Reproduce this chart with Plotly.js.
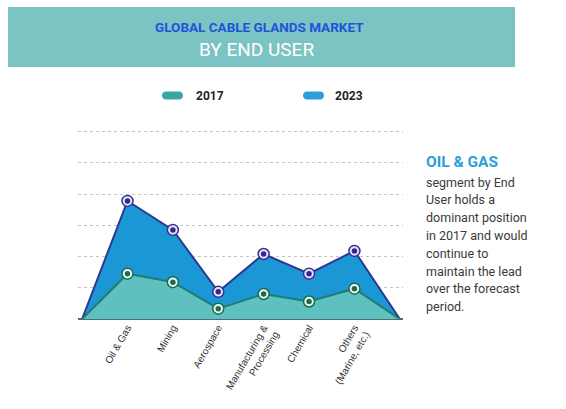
<!DOCTYPE html>
<html><head><meta charset="utf-8">
<script src="https://cdn.plot.ly/plotly-3.0.1.min.js"></script>
<style>html,body{margin:0;padding:0;background:#fff}#chart{width:566px;height:409px}</style>
</head><body><div id="chart"></div>
<script>
// ---- data ----
const categories = ["", "Oil & Gas", "Mining", "Aerospace", "Manufacturing &<br>Processing", "Chemical", "Others<br>(Marine, etc.)", " "];
const tickLabels = ["Oil & Gas", "Mining", "Aerospace", "Manufacturing &<br>Processing", "Chemical", "Others<br>(Marine, etc.)"];
const values2017 = [0, 1.45, 1.18, 0.33, 0.80, 0.56, 0.97, 0];
const values2023 = [0, 3.78, 2.85, 0.87, 2.08, 1.45, 2.18, 0];
const seriesNames = ["2017", "2023"];
const noteTitle = "OIL & GAS";
const noteLines = ["segment by End", "User holds a", "dominant position", "in 2017 and would", "continue to", "maintain the lead", "over the forecast", "period."];

// ---- layout helpers (pixel -> paper) ----
const W = 566, H = 409;
const M = {l: 78, r: 163, t: 129, b: 90};
const PW = W - M.l - M.r, PH = H - M.t - M.b;
const px = x => (x - M.l) / PW;
const py = y => (H - M.b - y) / PH;

const xs = categories.map((c, i) => i);
const markerIdx = [1, 2, 3, 4, 5, 6];

const traces = [
  {x: xs, y: values2023, type: 'scatter', mode: 'lines', fill: 'tozeroy', fillcolor: '#1b97d6',
   line: {color: '#2b3990', width: 2}, name: seriesNames[1], hoverinfo: 'skip'},
  {x: xs, y: values2017, type: 'scatter', mode: 'lines', fill: 'tozeroy', fillcolor: '#5ec1bf',
   line: {color: '#1f7d72', width: 2}, name: seriesNames[0], hoverinfo: 'skip'},
  {x: markerIdx, y: markerIdx.map(i => values2023[i]), type: 'scatter', mode: 'markers',
   marker: {size: 11, color: '#e6e4f7', line: {color: '#3a2e92', width: 1.5}}, hoverinfo: 'skip'},
  {x: markerIdx, y: markerIdx.map(i => values2023[i]), type: 'scatter', mode: 'markers',
   marker: {size: 5.5, color: '#2f2a8c'}, hoverinfo: 'skip'},
  {x: markerIdx, y: markerIdx.map(i => values2017[i]), type: 'scatter', mode: 'markers',
   marker: {size: 11, color: '#eef7f3', line: {color: '#1b6b50', width: 1.5}}, hoverinfo: 'skip'},
  {x: markerIdx, y: markerIdx.map(i => values2017[i]), type: 'scatter', mode: 'markers',
   marker: {size: 5.5, color: '#1b6b4c'}, hoverinfo: 'skip'}
];

function pill(x0, x1, yc, h, color) {
  const r = h / 2;
  const p = (x, y) => px(x) + ',' + py(y);
  const path = 'M' + p(x0 + r, yc - r) + ' L' + p(x1 - r, yc - r) +
    ' C' + p(x1 + r * 0.33, yc - r) + ' ' + p(x1 + r * 0.33, yc + r) + ' ' + p(x1 - r, yc + r) +
    ' L' + p(x0 + r, yc + r) +
    ' C' + p(x0 - r * 0.33, yc + r) + ' ' + p(x0 - r * 0.33, yc - r) + ' ' + p(x0 + r, yc - r) + ' Z';
  return {type: 'path', xref: 'paper', yref: 'paper', path: path, fillcolor: color, line: {width: 0}, layer: 'above'};
}

const shapes = [
  {type: 'rect', xref: 'paper', yref: 'paper', x0: px(8), x1: px(515), y0: py(67), y1: py(7),
   fillcolor: '#7cc3c3', line: {width: 0}, layer: 'below'},
  pill(162, 183, 95.5, 8, '#3aa6a4'),
  pill(303, 324, 95.5, 8, '#2a9fd8')
];

const annotations = [
  {text: '<b>GLOBAL CABLE GLANDS MARKET</b>', x: px(259.5), y: py(27), xref: 'paper', yref: 'paper',
   showarrow: false, xanchor: 'center', yanchor: 'middle', font: {family: 'Roboto', size: 13.5, color: '#1b56d8'}},
  {text: 'BY END USER', x: px(256), y: py(49), xref: 'paper', yref: 'paper',
   showarrow: false, xanchor: 'center', yanchor: 'middle', font: {family: 'Roboto', size: 19, color: '#ffffff'}},
  {text: '<b>' + seriesNames[0] + '</b>', x: px(194), y: py(96), xref: 'paper', yref: 'paper',
   showarrow: false, xanchor: 'left', yanchor: 'middle', font: {family: 'Roboto', size: 12, color: '#222'}},
  {text: '<b>' + seriesNames[1] + '</b>', x: px(333), y: py(96), xref: 'paper', yref: 'paper',
   showarrow: false, xanchor: 'left', yanchor: 'middle', font: {family: 'Roboto', size: 12, color: '#222'}},
  {text: '<b>' + noteTitle.replace('&', '&amp;') + '</b>', x: px(424), y: py(162), xref: 'paper', yref: 'paper',
   showarrow: false, xanchor: 'left', yanchor: 'middle', font: {family: 'Roboto', size: 15.5, color: '#2a9fd8'}}
];
noteLines.forEach((t, i) => {
  annotations.push({text: t, x: px(424), y: py(182 + i * 17.8), xref: 'paper', yref: 'paper',
    showarrow: false, xanchor: 'left', yanchor: 'middle', font: {family: 'Roboto', size: 12.5, color: '#3a3a3a'}});
});

const layout = {
  width: W, height: H, margin: M, paper_bgcolor: '#fff', plot_bgcolor: '#fff',
  showlegend: false,
  xaxis: {range: [-0.09, 7.07], tickvals: markerIdx, ticktext: tickLabels, tickangle: -60,
    showgrid: false, zeroline: false, showline: false, ticks: '', fixedrange: true,
    tickfont: {family: 'Arial', size: 10, color: '#333'}},
  yaxis: {range: [0, 6.08], dtick: 1, showticklabels: false, showgrid: true,
    gridcolor: '#c4c4c4', griddash: 'dot', gridwidth: 1, zeroline: true, zerolinecolor: '#4b6f7a',
    zerolinewidth: 2, ticks: '', fixedrange: true},
  shapes: shapes, annotations: annotations
};

Plotly.newPlot('chart', traces, layout, {displayModeBar: false, staticPlot: true});
</script></body></html>
